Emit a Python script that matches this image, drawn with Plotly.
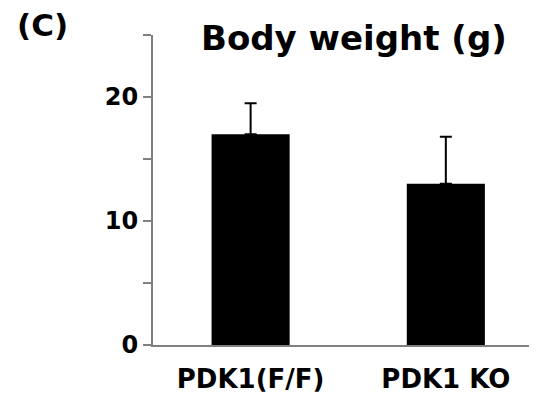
import plotly.graph_objects as go

categories = ["PDK1(F/F)", "PDK1 KO"]
values = [17.0, 13.0]
errors_up = [2.5, 3.8]
ytick_vals = [0, 5, 10, 15, 20, 25]
ytick_text = ["0", "", "10", "", "20", ""]

FONT = "DejaVu Sans"

# page body has a default 8px margin; compensate so the plot lands where the reference is
OFF = 8
FW, FH = 537 - OFF, 396 - OFF
L, R, T, B = 153 - OFF, 0, 35 - OFF, 51

fig = go.Figure()
fig.add_trace(go.Bar(
    x=categories, y=values, width=0.4,
    marker=dict(color="black", line=dict(width=0)),
    error_y=dict(type="data", array=errors_up, arrayminus=[0]*len(errors_up),
                 symmetric=False, color="black", thickness=2, width=6, visible=True),
))

fig.update_layout(
    width=FW, height=FH,
    margin=dict(l=L, r=R, t=T, b=B, autoexpand=False),
    paper_bgcolor="white", plot_bgcolor="white",
    showlegend=False,
    font=dict(family=FONT, color="black"),
    xaxis=dict(range=[-0.5, 1.467], showline=True, linecolor="#808080", linewidth=2,
               ticks="", showgrid=False, zeroline=False, automargin=False,
               tickfont=dict(family=FONT, size=26, color="black", weight="bold"),
               ticklabelstandoff=10),
    yaxis=dict(range=[0, 25], showline=True, linecolor="#808080", linewidth=2,
               ticks="outside", ticklen=8, tickwidth=2, tickcolor="#808080",
               tickvals=ytick_vals, ticktext=ytick_text, automargin=False,
               showgrid=False, zeroline=False, ticklabelstandoff=0,
               tickfont=dict(family=FONT, size=24, color="black", weight="bold")),
)

# annotations placed at target page-pixel centres
anns = [("<b>Body weight (g)</b>", 354, 38, 34), ("<b>(C)</b>", 42, 25, 31)]
W = FW - L - R
H = FH - T - B
for text, px, py, size in anns:
    fig.add_annotation(text=text, xref="paper", yref="paper",
                       x=(px - OFF - L) / W, y=1 - (py - OFF - T) / H,
                       xanchor="center", yanchor="middle", showarrow=False,
                       font=dict(family=FONT, size=size, color="black"))

fig.write_html("out.html")
